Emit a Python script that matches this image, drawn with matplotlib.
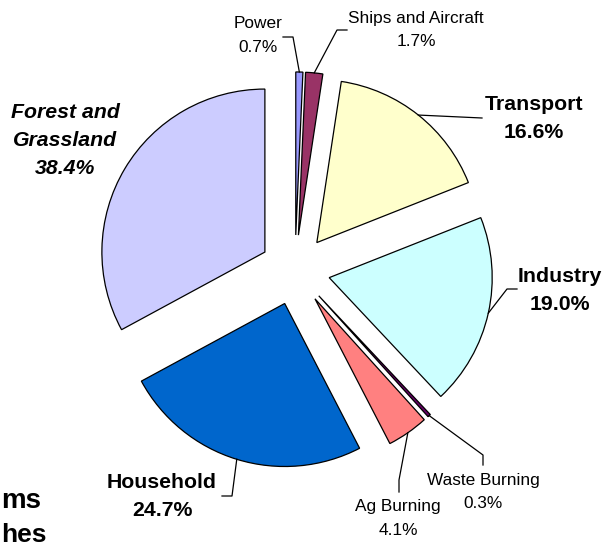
import matplotlib.pyplot as plt
import numpy as np

plt.rcParams['font.family'] = ['Liberation Sans', 'DejaVu Sans']

# sources, drawn slice sizes and the percentages printed on the chart
sources = ["Power", "Ships and Aircraft", "Transport", "Industry",
           "Waste Burning", "Ag Burning", "Household", "Forest and\nGrassland"]
shares = [0.7, 1.7, 16.6, 19.0, 0.3, 4.1, 24.7, 32.9]
pct_text = ["0.7%", "1.7%", "16.6%", "19.0%", "0.3%", "4.1%", "24.7%", "38.4%"]
colors = ["#9999FF", "#993366", "#FFFFCC", "#CCFFFF",
          "#660066", "#FF8080", "#0066CC", "#CCCCFF"]

W, H = 603, 549

def iy(y):
    # image row -> data y
    return H - y

# label placement (image pixels): centre x, first line y, bold?, leader path
label_pos = [
    dict(x=258, y=24, bold=False, tail=[(283, 37), (293, 37)]),
    dict(x=416, y=18, bold=False, tail=[(347, 30), (337, 30)]),
    dict(x=534, y=105, bold=True, tail=[(482, 118)]),
    dict(x=560, y=277, bold=True, tail=[(517, 289), (507, 289)]),
    dict(x=483, y=480, bold=False, tail=[(483, 465), (483, 455)]),
    dict(x=398, y=507, bold=False, tail=[(399, 492), (399, 480)]),
    dict(x=162, y=483, bold=True, tail=[(222, 496), (232, 496)]),
    dict(x=65, y=113, bold=True, italic=True, tail=None),
]

radius = 163
fig = plt.figure(figsize=(W / 100, H / 100), dpi=100)
ax = fig.add_axes([0, 0, 1, 1])

# pie explode is in data units here, so ~0.215 of the radius
wedges, _ = ax.pie(shares, colors=colors, explode=[0.215 * radius] * len(shares),
                   startangle=90, counterclock=False, radius=radius,
                   center=(295, iy(270)), frame=True,
                   wedgeprops=dict(edgecolor='black', linewidth=0.9))
ax.set_xlim(0, W)
ax.set_ylim(0, H)
ax.set_aspect('equal')
ax.axis('off')

for w, name, pct, pos in zip(wedges, sources, pct_text, label_pos):
    lines = name.split("\n") + [pct]
    if pos["bold"]:
        size, step, weight = 15.3, 27.5, 'bold'
    else:
        size, step, weight = 12.4, 23.5, 'normal'
    style = 'italic' if pos.get("italic") else 'normal'
    for k, txt in enumerate(lines):
        ax.text(pos["x"], iy(pos["y"] + k * step), txt, ha='center', va='center',
                fontsize=size, fontweight=weight, fontstyle=style, color='black')
    if pos["tail"]:
        mid = np.deg2rad((w.theta1 + w.theta2) / 2)
        cx, cy = w.center
        px = cx + w.r * np.cos(mid)
        py = cy + w.r * np.sin(mid)
        xs = [p[0] for p in pos["tail"]] + [px]
        ys = [iy(p[1]) for p in pos["tail"]] + [py]
        ax.plot(xs, ys, color='black', linewidth=0.9)

# fragments of slide text at the left edge
ax.text(1, iy(501), "ms", ha='left', va='center', fontsize=20, fontweight='bold')
ax.text(1, iy(535), "hes", ha='left', va='center', fontsize=19, fontweight='bold')

fig.savefig("out.png", dpi=100)
